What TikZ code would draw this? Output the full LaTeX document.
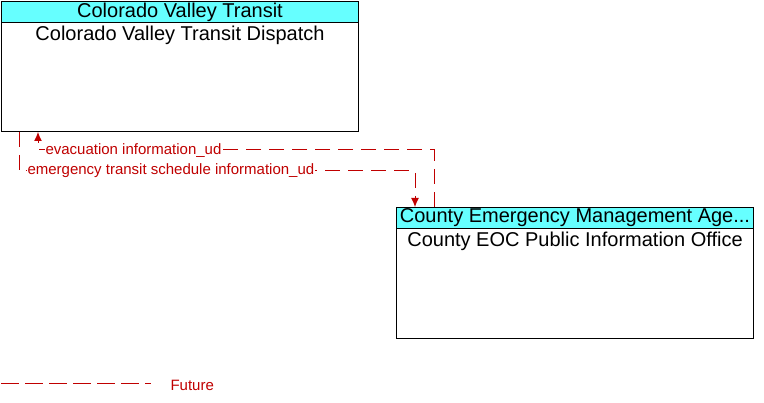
\documentclass[tikz,border=0pt]{standalone}
\usepackage{fontspec}
\setmainfont{Liberation Sans}
\usetikzlibrary{arrows.meta}
\definecolor{cHead}{RGB}{102,255,255}
\definecolor{cFut}{RGB}{192,0,0}

\begin{document}
\begin{tikzpicture}[x=1pt,y=-1pt, line width=1pt,
    every node/.style={font=\fontsize{20}{22}\selectfont, inner sep=0pt},
    >={Latex[length=9pt,width=8pt]},
    box/.style={draw=black, fill=white, minimum width=357pt, anchor=north west},
    head/.style={draw=black, fill=cHead, minimum width=357pt, minimum height=21pt, anchor=north},
    future/.style={draw=cFut, dash pattern=on 15pt off 8pt},
    lbl/.style={font=\fontsize{15}{17}\selectfont, text=cFut, fill=white, inner sep=1pt, anchor=west}]
  \useasboundingbox (0,0) rectangle (764,403);
  % Colorado Valley Transit
  \node[box, minimum height=130pt] (cvt) at (1,1) {};
  \node[head] (cvth) at (cvt.north) {Colorado Valley Transit};
  \node[anchor=base] (cvtt) at ([yshift=-40pt]cvt.north) {Colorado Valley Transit Dispatch};
  % County Emergency Management
  \node[box, minimum height=131pt] (ceo) at (396,207) {};
  \node[head] (ceoh) at (ceo.north) {County Emergency Management Age...};
  \node[anchor=base] (ceot) at ([yshift=-40pt]ceo.north) {County EOC Public Information Office};
  % flows
  \draw[future,->] ([xshift=38pt]ceo.north west) -- ++(0,-57) -| ([xshift=37pt]cvt.south west);
  \draw[future,->] ([xshift=18pt]cvt.south west) -- ++(0,39) -| ([xshift=19pt]ceo.north west);
  \node[lbl] (evac) at (44,151) {evacuation information\_ud};
  \node[lbl] (sched) at (26,171) {emergency transit schedule information\_ud};
  % legend
  \coordinate (lg1) at (1,384);
  \coordinate (lg2) at (151,384);
  \draw[future, dash pattern=on 18pt off 6pt] (lg1) -- (lg2);
  \node[lbl, fill=none] (lgt) at (169,385) {Future};
\end{tikzpicture}
\end{document}
